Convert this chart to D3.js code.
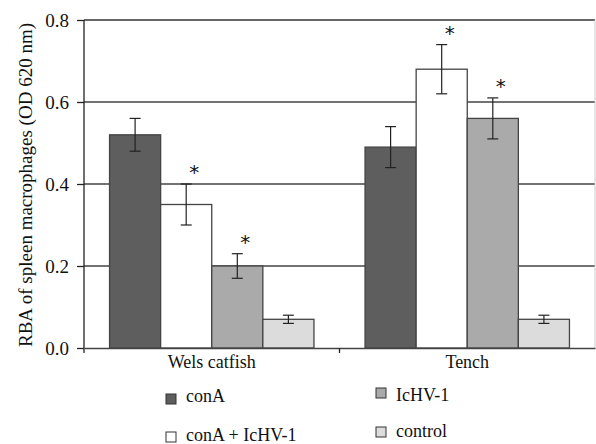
<!DOCTYPE html>
<html>
<head>
<meta charset="utf-8">
<script src="https://cdn.jsdelivr.net/npm/d3@7"></script>
<style>
body { margin:0; background:#fff; }
</style>
</head>
<body>
<svg id="chart" width="596" height="444"></svg>
<script>
// data
var groups = ["Wels catfish", "Tench"];
var series = ["conA", "conA + IcHV-1", "IcHV-1", "control"];
var colors = ["#5e5e5e", "#ffffff", "#aaaaaa", "#dcdcdc"];
var means = [[0.52, 0.35, 0.20, 0.07], [0.49, 0.68, 0.56, 0.07]];
var errs  = [[0.04, 0.05, 0.03, 0.01], [0.05, 0.06, 0.05, 0.01]];
var stars = [[false, true, true, false], [false, true, true, false]];
var yticks = [0, 0.2, 0.4, 0.6, 0.8];

var serif = "'Liberation Serif', 'Times New Roman', 'DejaVu Serif', serif";
var svg = d3.select("#chart");
var pLeft = 84, pRight = 595, pTop = 20, pBottom = 348;

var x0 = d3.scaleBand().domain(groups).range([pLeft, pRight]);
// bars fill ~80% of each band
var x1 = d3.scaleBand().domain(series).range([x0.bandwidth()*0.1, x0.bandwidth()*0.9]);
var y = d3.scaleLinear().domain([0, 0.8]).range([pBottom, pTop]);

// grid lines
svg.selectAll("line.grid").data(yticks.slice(1)).enter().append("line")
  .attr("class", "grid")
  .attr("x1", pLeft).attr("x2", pRight)
  .attr("y1", function(d){return y(d);}).attr("y2", function(d){return y(d);})
  .attr("stroke", function(d){return d==0.8 ? "#333" : "#444";})
  .attr("stroke-width", 1.3);
// right border
svg.append("line").attr("x1", pRight).attr("x2", pRight).attr("y1", pTop).attr("y2", pBottom)
  .attr("stroke", "#ccc").attr("stroke-width", 1);

// bars
groups.forEach(function(g, gi) {
  var gEl = svg.append("g").attr("transform", "translate(" + x0(g) + ",0)");
  series.forEach(function(s, si) {
    var v = means[gi][si], e = errs[gi][si];
    var bx = x1(s), bw = x1.bandwidth();
    gEl.append("rect").attr("x", bx).attr("y", y(v))
      .attr("width", bw).attr("height", y(0) - y(v))
      .attr("fill", colors[si]).attr("stroke", "#444").attr("stroke-width", 1.3);
    var cx = bx + bw/2;
    gEl.append("line").attr("x1", cx).attr("x2", cx).attr("y1", y(v+e)).attr("y2", y(v-e))
      .attr("stroke", "#222").attr("stroke-width", 1.2);
    [v+e, v-e].forEach(function(t) {
      gEl.append("line").attr("x1", cx-5.5).attr("x2", cx+5.5).attr("y1", y(t)).attr("y2", y(t))
        .attr("stroke", "#222").attr("stroke-width", 1.2);
    });
    if (stars[gi][si]) {
      var sy = Math.max(y(v+e) - 5, pTop + 12);
      gEl.append("text").attr("x", cx + 8).attr("y", sy)
        .attr("text-anchor", "middle").style("font-size", "20px").style("font-family", "'DejaVu Sans', sans-serif")
        .attr("fill", "#111").text("*");
    }
  });
});

// y axis
var yAxis = d3.axisLeft(y).tickValues(yticks).tickFormat(d3.format(".1f")).tickSize(7).tickSizeOuter(0);
var ya = svg.append("g").attr("transform", "translate(" + pLeft + ",0)").call(yAxis);
ya.select(".domain").attr("stroke", "#222").attr("stroke-width", 1.3).attr("d", "M0," + pTop + "V" + (pBottom + 5));
ya.selectAll(".tick line").attr("stroke", "#222").attr("stroke-width", 1.3);
ya.selectAll(".tick text").style("font-size", "19px").style("font-family", serif).attr("fill", "#111")
  .attr("x", -15).attr("dy", "0.33em");

// x axis
var xa = svg.append("g").attr("transform", "translate(0," + pBottom + ")")
  .call(d3.axisBottom(x0).tickSize(0).tickSizeOuter(0));
xa.select(".domain").attr("stroke", "#444").attr("stroke-width", 1.5);
xa.selectAll(".tick text").style("font-size", "18px").style("font-family", serif).attr("fill", "#111")
  .attr("y", 20).attr("dy", "0");
// separator tick between groups
svg.append("line").attr("x1", x0("Tench")).attr("x2", x0("Tench"))
  .attr("y1", pBottom).attr("y2", pBottom + 5).attr("stroke", "#222").attr("stroke-width", 1.3);

// y title
svg.append("text").attr("transform", "translate(32," + ((pTop + pBottom)/2 + 1) + ") rotate(-90)")
  .attr("text-anchor", "middle").style("font-size", "19px").style("font-family", serif).attr("fill", "#111")
  .text("RBA of spleen macrophages (OD 620 nm)");

// legend
var legPos = [[166, 394, 402], [166, 432, 441], [376, 388, 401], [376, 427, 437]];
series.forEach(function(s, i) {
  var p = legPos[i];
  svg.append("rect").attr("x", p[0]).attr("y", p[1]).attr("width", 10).attr("height", 10)
    .attr("fill", colors[i]).attr("stroke", "#333").attr("stroke-width", 1);
  svg.append("text").attr("x", p[0] + 20).attr("y", p[2])
    .style("font-size", "18px").style("font-family", serif).attr("fill", "#111").text(s);
});
</script>
</body>
</html>
